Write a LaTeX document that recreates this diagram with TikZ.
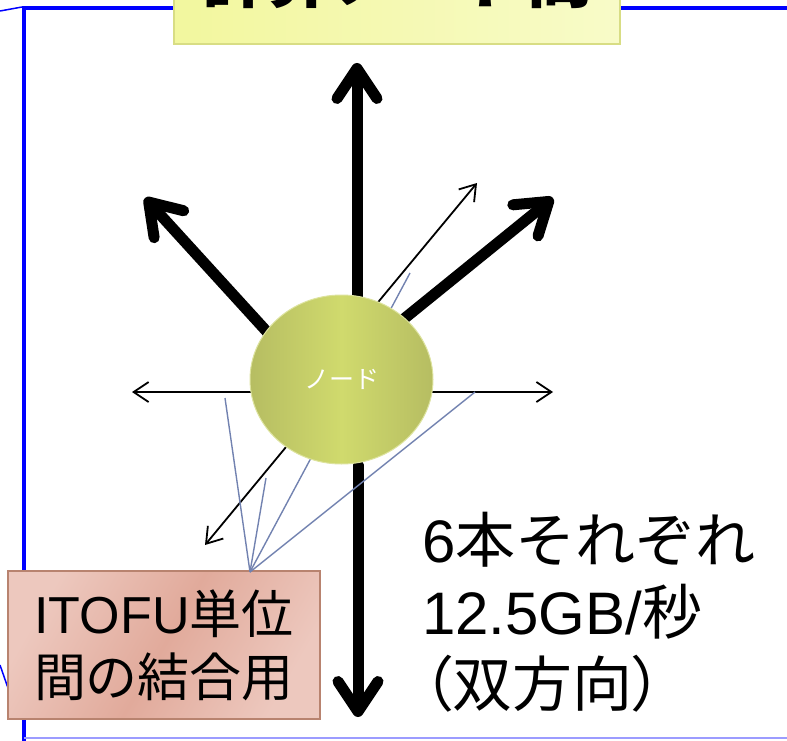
\documentclass[tikz,border=0pt]{standalone}
\usepackage{fontspec}
\setmainfont{Liberation Sans}
\newfontfamily\cjk{Noto Sans CJK JP}
\newfontfamily\cjkp[RawFeature=+palt]{Noto Sans CJK JP}
\usetikzlibrary{arrows.meta, shapes.geometric}
\definecolor{frameblue}{HTML}{0000FF}
\definecolor{framelight}{HTML}{9C9CFF}
\definecolor{titlefill}{HTML}{F2F79E}
\definecolor{titlelight}{HTML}{F8FBC8}
\definecolor{titleline}{HTML}{D8DD84}
\definecolor{nodemid}{HTML}{D0DA6D}
\definecolor{nodeedge}{HTML}{B6BD62}
\definecolor{noderim}{HTML}{DDE39E}
\definecolor{boxmid}{HTML}{E1AA9B}
\definecolor{boxlight}{HTML}{EDC8BE}
\definecolor{boxline}{HTML}{B8836F}
\definecolor{calloutline}{HTML}{7282B0}
\tikzset{
  thick link/.style = {line width=11pt, line cap=round, -{Straight Barb[length=30pt, width=40pt, round]}},
  thin link/.style = {line width=1.8pt, -{Straight Barb[length=15pt, width=20pt]}},
  callout/.style = {draw=calloutline, line width=1.4pt}
}

\begin{document}
\begin{tikzpicture}[x=1pt, y=-1pt]
\useasboundingbox (0,0) rectangle (787,741);
\draw[frameblue, line width=4pt] (22,8) -- (787,8);
\draw[frameblue, line width=4pt] (24,8) -- (24,741);
\draw[frameblue, line width=1.5pt] (0,11) -- (22,7);
\draw[frameblue, line width=1.5pt] (0,665) -- (8,688);
\draw[framelight, line width=2.2pt] (24,738) -- (787,738);
\node[draw=titleline, line width=1.5pt, left color=titlefill, right color=titlelight,
  minimum width=446pt, minimum height=140pt, text height=60pt, text depth=2pt,
  font=\fontsize{65}{70}\cjk\bfseries] (title) at (397,-26) {計算ノード間};
\coordinate (U0) at (357,300);   \coordinate (U) at (357,63);
\coordinate (D0) at (358,465);   \coordinate (D) at (358,717);
\coordinate (UL0) at (300,368);  \coordinate (UL) at (145,198);
\coordinate (UR0) at (368,348);  \coordinate (UR) at (553,198);
\coordinate (L0) at (300,392);   \coordinate (L) at (132,392);
\coordinate (R0) at (390,392);   \coordinate (R) at (553,392);
\coordinate (T0) at (350,336);   \coordinate (T) at (477,183);
\coordinate (B0) at (310,418);   \coordinate (B) at (205,545);
\draw[thick link] (U0) -- (U);
\draw[thick link] (D0) -- (D);
\draw[thick link] (UL0) -- (UL);
\draw[thick link] (UR0) -- (UR);
\draw[thin link] (L0) -- (L);
\draw[thin link] (R0) -- (R);
\draw[thin link] (T0) -- (T);
\draw[thin link] (B0) -- (B);
\node[draw=boxline, line width=1.5pt, left color=boxlight, right color=boxlight, middle color=boxmid,
  shading angle=60, minimum width=312pt, minimum height=148pt, align=center,
  font=\fontsize{52}{63}\selectfont] (itofu) at (164,645) {ITOFU{\cjk 単位}\\{\cjk 間の結合用}};
\coordinate (pin) at (250,572);
\draw[callout] (pin) -- (225,398);
\draw[callout] (pin) -- (266,478);
\draw[callout] (pin) -- (410,273);
\draw[callout] (pin) -- (475,392);
\node[ellipse, draw=noderim, line width=1pt, left color=nodeedge, right color=nodeedge, middle color=nodemid,
  minimum width=183pt, minimum height=169pt, text=white,
  font=\fontsize{25}{30}\cjk] (nd) at (341.5,379.5) {ノード};
\node[anchor=west, align=left, inner sep=0pt, font=\fontsize{60}{72}\selectfont] (rate) at (422,612)
  {6{\cjk 本それぞれ}\\12.5GB/{\cjk 秒}\\{\cjkp （双方向）}};
\end{tikzpicture}
\end{document}
